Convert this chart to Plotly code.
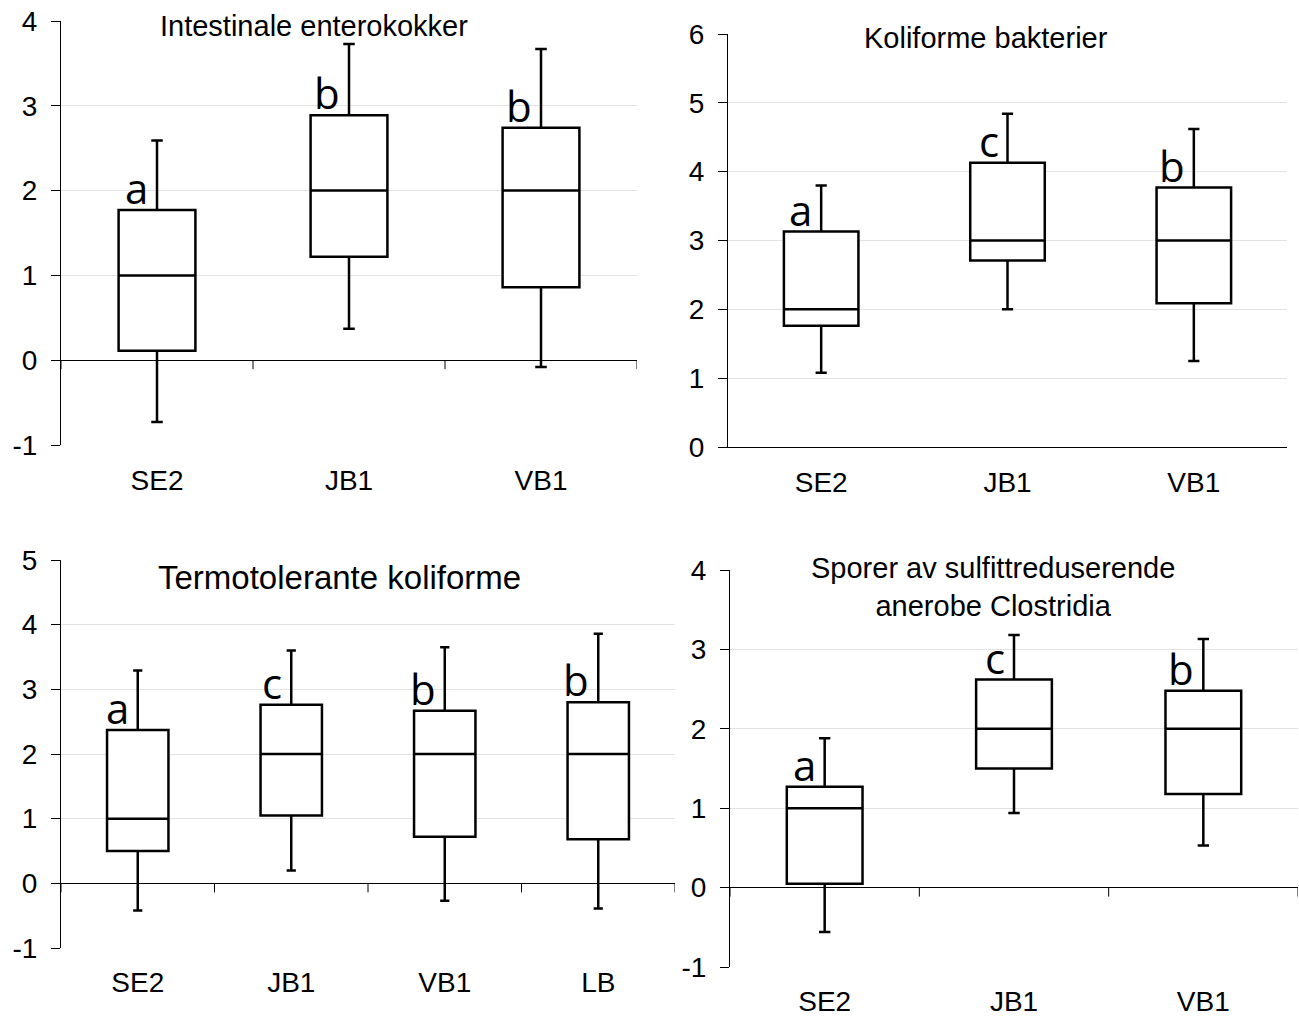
import plotly.graph_objects as go

# ---------------- data ----------------
cats3 = ["SE2", "JB1", "VB1"]
cats4 = ["SE2", "JB1", "VB1", "LB"]

title1 = "Intestinale enterokokker"
low1 = [-0.73, 0.37, -0.08]
q1_1 = [0.11, 1.22, 0.86]
med1 = [1.0, 2.0, 2.0]
q3_1 = [1.77, 2.89, 2.74]
up1 = [2.59, 3.73, 3.67]
let1 = ["a", "b", "b"]

title2 = "Koliforme bakterier"
low2 = [1.08, 2.00, 1.25]
q1_2 = [1.76, 2.71, 2.09]
med2 = [2.0, 3.0, 3.0]
q3_2 = [3.13, 4.13, 3.77]
up2 = [3.80, 4.84, 4.62]
let2 = ["a", "c", "b"]

title3 = "Termotolerante koliforme"
low3 = [-0.42, 0.20, -0.27, -0.39]
q1_3 = [0.50, 1.05, 0.72, 0.68]
med3 = [1.0, 2.0, 2.0, 2.0]
q3_3 = [2.37, 2.76, 2.67, 2.80]
up3 = [3.29, 3.60, 3.65, 3.86]
let3 = ["a", "c", "b", "b"]

title4 = "Sporer av sulfittreduserende<br>anerobe Clostridia"
low4 = [-0.56, 0.94, 0.53]
q1_4 = [0.05, 1.50, 1.18]
med4 = [1.0, 2.0, 2.0]
q3_4 = [1.27, 2.62, 2.48]
up4 = [1.88, 3.18, 3.13]
let4 = ["a", "c", "b"]

# ---------------- layout config ----------------
W, H = 1299, 1017
FONT = "Liberation Sans, Arial, sans-serif"
LETTER_FONT = "Open Sans, sans-serif"

panels = [
    dict(cats=cats3, low=low1, q1=q1_1, med=med1, q3=q3_1, up=up1, let=let1,
         title=title1, yr=[-1, 4], xdom=[61, 637], ydom=[21, 445],
         tpos=(314, 26), tsize=29, stand=16),
    dict(cats=cats3, low=low2, q1=q1_2, med=med2, q3=q3_2, up=up2, let=let2,
         title=title2, yr=[0, 6], xdom=[728, 1287], ydom=[34, 447],
         tpos=(986, 38), tsize=29, stand=10),
    dict(cats=cats4, low=low3, q1=q1_3, med=med3, q3=q3_3, up=up3, let=let3,
         title=title3, yr=[-1, 5], xdom=[61, 675], ydom=[560, 948],
         tpos=(339, 577), tsize=33, stand=15),
    dict(cats=cats3, low=low4, q1=q1_4, med=med4, q3=q3_4, up=up4, let=let4,
         title=title4, yr=[-1, 4], xdom=[730, 1298], ydom=[570, 967],
         tpos=(993, 587), tsize=29, stand=15),
]

fig = go.Figure()
annotations = []
shapes = []

for i, p in enumerate(panels, start=1):
    sfx = "" if i == 1 else str(i)
    xa, ya = "x" + sfx, "y" + sfx
    fig.add_trace(go.Box(
        x=p["cats"], q1=p["q1"], median=p["med"], q3=p["q3"],
        lowerfence=p["low"], upperfence=p["up"],
        width=0.4, whiskerwidth=0.15, fillcolor="white",
        line=dict(color="black", width=2.5), boxpoints=False,
        showlegend=False, xaxis=xa, yaxis=ya,
    ))
    n = len(p["cats"])
    yvals = list(range(p["yr"][0], p["yr"][1] + 1))
    fig.layout["xaxis" + sfx] = dict(
        domain=[p["xdom"][0] / W, p["xdom"][1] / W],
        anchor=ya, type="category", categoryorder="array",
        categoryarray=p["cats"], range=[-0.5, n - 0.5],
        showgrid=False, zeroline=False, showline=(p["yr"][0] == 0),
        linecolor="black", linewidth=1, ticks="",
        tickfont=dict(family=FONT, size=28, color="black"),
        ticklabelstandoff=p["stand"], automargin=False,
    )
    fig.layout["yaxis" + sfx] = dict(
        domain=[1 - p["ydom"][1] / H, 1 - p["ydom"][0] / H],
        anchor=xa, range=p["yr"],
        tickmode="array", tickvals=yvals, ticktext=[str(v) for v in yvals],
        showgrid=True, gridcolor="#e3e3e3", gridwidth=1,
        zeroline=True, zerolinecolor="black", zerolinewidth=1,
        showline=True, linecolor="black", linewidth=1,
        ticks="outside", ticklen=9, tickcolor="black", tickwidth=1,
        tickfont=dict(family=FONT, size=28, color="black"),
        ticklabelstandoff=8, automargin=False,
    )
    # category boundary ticks hanging from the zero line
    for b in range(n + 1):
        shapes.append(dict(
            type="line", xref=xa, yref=ya, x0=b - 0.5, x1=b - 0.5,
            ysizemode="pixel", yanchor=0, y0=0, y1=-9,
            line=dict(color="black", width=1),
        ))
    # significance letters
    for c, q3v, lt in zip(p["cats"], p["q3"], p["let"]):
        annotations.append(dict(
            x=c, y=q3v, xref=xa, yref=ya, text=lt, showarrow=False,
            xanchor="right", yanchor="bottom", xshift=-7, yshift=-8,
            font=dict(family=LETTER_FONT, size=42, color="black"),
        ))
    # panel title
    annotations.append(dict(
        x=p["tpos"][0] / W, y=1 - p["tpos"][1] / H, xref="paper", yref="paper",
        text=p["title"], showarrow=False, xanchor="center", yanchor="middle",
        font=dict(family=FONT, size=p["tsize"], color="black"),
    ))

fig.update_layout(
    width=W, height=H, autosize=False,
    margin=dict(l=0, r=0, t=0, b=0, autoexpand=False),
    paper_bgcolor="white", plot_bgcolor="white",
    annotations=annotations, shapes=shapes,
    showlegend=False,
)

fig.write_html("out.html")
